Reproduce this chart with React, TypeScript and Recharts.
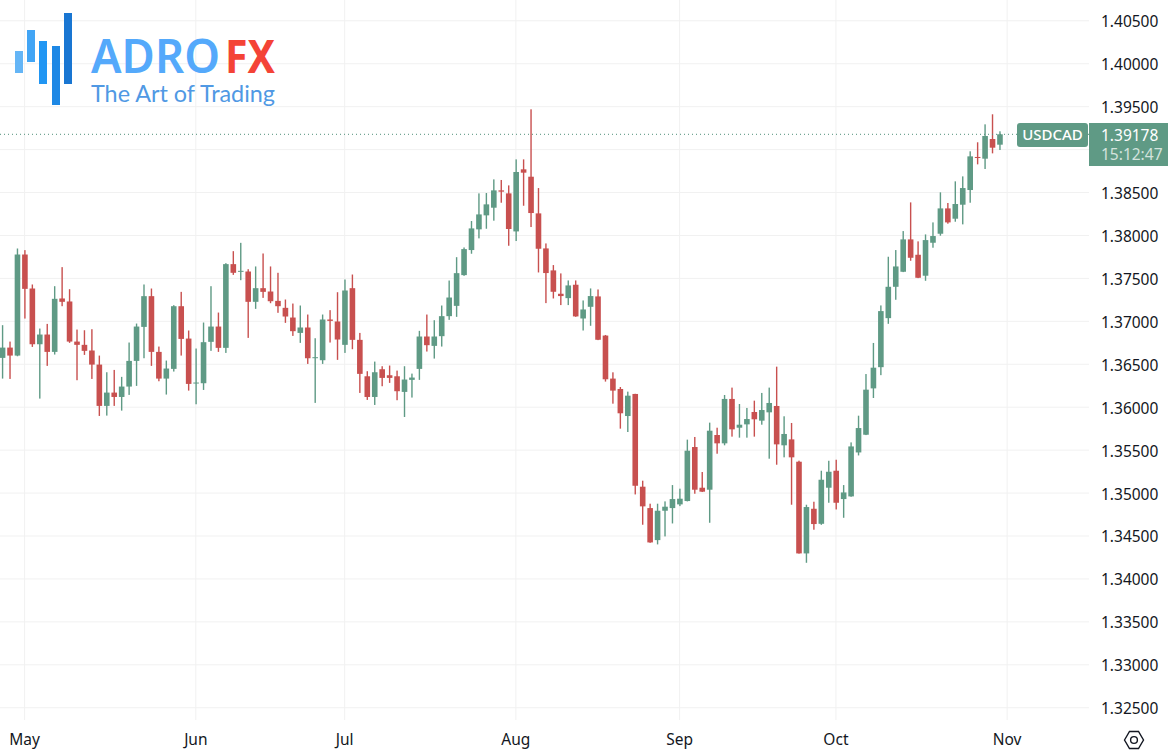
import React from "react";
import { ComposedChart, Bar, XAxis, YAxis, CartesianGrid, ReferenceLine } from "recharts";

const opens = [
1.36574,1.36694,1.36601,1.37778,1.37382,1.36733,1.36846,1.36644,1.37266,1.37231,
1.36764,1.36726,1.36660,1.36496,1.36015,1.36170,1.36119,1.36240,1.36539,1.36935,
1.37293,1.36644,1.36333,1.36446,1.37176,1.36799,1.36279,1.36279,1.36761,1.36939,
1.36691,1.37666,1.37580,1.37580,1.37227,1.37386,1.37347,1.37238,1.37157,1.37044,
1.36865,1.36928,1.36574,1.36547,1.37021,1.36998,1.36726,1.37386,1.36784,1.36360,
1.36119,1.36442,1.36372,1.36360,1.36178,1.36318,1.36446,1.36823,1.36714,1.36827,
1.37060,1.37180,1.37538,1.37830,1.38071,1.38234,1.38323,1.38525,1.38490,1.38047,
1.38770,1.38684,1.38257,1.37849,1.37593,1.37321,1.37270,1.37426,1.37033,1.37169,
1.37290,1.36834,1.36333,1.36212,1.35897,1.36154,1.35074,1.34825,1.34452,1.34794,
1.34825,1.34868,1.34907,1.35536,1.35062,1.35039,1.35676,1.35579,1.36096,1.35761,
1.35800,1.35944,1.35843,1.35940,1.36014,1.35556,1.35625,1.35365,1.34297,1.34817,
1.34642,1.35062,1.35260,1.34930,1.34961,1.35473,1.35679,1.36219,1.36466,1.37037,
1.37402,1.37577,1.37954,1.37775,1.37531,1.37915,1.38020,1.38315,1.38195,1.38358,
1.38529,1.38914,1.38894,1.39123,1.39057,
];
const highs = [
1.36955,1.36764,1.37848,1.37829,1.37429,1.36916,1.36970,1.37409,1.37631,1.37374,
1.36904,1.36896,1.36908,1.36601,1.36407,1.36434,1.36353,1.36753,1.36974,1.37429,
1.37382,1.36706,1.36543,1.37188,1.37343,1.36893,1.36683,1.36986,1.37409,1.37102,
1.37677,1.37817,1.37914,1.37607,1.37639,1.37790,1.37639,1.37565,1.37254,1.37207,
1.37184,1.37079,1.36803,1.37079,1.37130,1.37339,1.37487,1.37545,1.36865,1.36419,
1.36531,1.36477,1.36485,1.36426,1.36477,1.36391,1.36889,1.37079,1.37013,1.37184,
1.37475,1.37747,1.37860,1.38168,1.38490,1.38494,1.38653,1.38646,1.38583,1.38886,
1.38886,1.39469,1.38552,1.37907,1.37655,1.37558,1.37476,1.37476,1.37243,1.37383,
1.37371,1.36841,1.36406,1.36235,1.36181,1.36156,1.35144,1.34876,1.34876,1.34903,
1.35093,1.35051,1.35622,1.35653,1.35245,1.35820,1.35761,1.36142,1.36228,1.36037,
1.35991,1.36076,1.36166,1.36228,1.36472,1.35894,1.35816,1.35377,1.34864,1.34899,
1.35260,1.35376,1.35388,1.35093,1.35590,1.35901,1.36386,1.36748,1.37185,1.37752,
1.37830,1.38051,1.38385,1.37931,1.38012,1.38152,1.38502,1.38378,1.38630,1.38688,
1.38980,1.39085,1.39294,1.39411,1.39213,
];
const lows = [
1.36333,1.36329,1.36593,1.37032,1.36702,1.36100,1.36481,1.36613,1.37176,1.36749,
1.36314,1.36609,1.36329,1.35898,1.35902,1.36015,1.35960,1.36143,1.36248,1.36570,
1.36481,1.36302,1.36147,1.36415,1.36601,1.36193,1.36034,1.36201,1.36656,1.36644,
1.36632,1.37541,1.37479,1.36807,1.37145,1.37273,1.37211,1.37099,1.36982,1.36830,
1.36749,1.36504,1.36050,1.36504,1.36753,1.36551,1.36632,1.36675,1.36166,1.36085,
1.36026,1.36244,1.36283,1.36081,1.35886,1.36112,1.36318,1.36648,1.36566,1.36706,
1.37017,1.37052,1.37530,1.37787,1.37966,1.38078,1.38172,1.38381,1.37880,1.37935,
1.38346,1.38098,1.37569,1.37212,1.37266,1.37189,1.37189,1.37053,1.36893,1.36948,
1.36781,1.36298,1.36041,1.35750,1.35711,1.34984,1.34631,1.34421,1.34402,1.34495,
1.34646,1.34848,1.34903,1.34992,1.35012,1.34654,1.35458,1.35556,1.35657,1.35645,
1.35645,1.35657,1.35796,1.35400,1.35330,1.35416,1.34864,1.34295,1.34188,1.34573,
1.34630,1.34887,1.34809,1.34712,1.34957,1.35438,1.35675,1.36107,1.36373,1.36971,
1.37251,1.37573,1.37705,1.37503,1.37472,1.37857,1.37997,1.38137,1.38160,1.38129,
1.38381,1.38828,1.38774,1.38956,1.38995,
];
const closes = [
1.36694,1.36601,1.37778,1.37378,1.36733,1.36846,1.36644,1.37262,1.37227,1.36764,
1.36726,1.36656,1.36496,1.36015,1.36170,1.36119,1.36240,1.36539,1.36939,1.37293,
1.36644,1.36333,1.36450,1.37176,1.36795,1.36271,1.36287,1.36757,1.36939,1.36691,
1.37666,1.37565,1.37588,1.37227,1.37386,1.37343,1.37234,1.37176,1.37056,1.36885,
1.36928,1.36570,1.36582,1.37021,1.37005,1.36788,1.37359,1.36784,1.36388,1.36119,
1.36407,1.36341,1.36341,1.36186,1.36322,1.36345,1.36823,1.36722,1.36823,1.37060,
1.37277,1.37561,1.37841,1.38082,1.38245,1.38362,1.38525,1.38510,1.38075,1.38739,
1.38731,1.38261,1.37845,1.37562,1.37344,1.37294,1.37418,1.37057,1.37138,1.37294,
1.36785,1.36325,1.36193,1.35929,1.36134,1.35085,1.34845,1.34425,1.34794,1.34841,
1.34930,1.34934,1.35493,1.35039,1.35016,1.35726,1.35579,1.36096,1.35742,1.35796,
1.35862,1.35859,1.35967,1.36049,1.35567,1.35688,1.35416,1.34297,1.34837,1.34639,
1.35155,1.35248,1.34887,1.35007,1.35543,1.35757,1.36204,1.36460,1.37119,1.37402,
1.37639,1.37954,1.37740,1.37507,1.37946,1.37993,1.38315,1.38152,1.38366,1.38552,
1.38921,1.38902,1.39158,1.39022,1.39178,
];

const monthTicks = [3, 26, 46, 69, 91, 112, 135];
const monthLabels = ["May", "Jun", "Jul", "Aug", "Sep", "Oct", "Nov"];
const gridPrices = [1.325, 1.33, 1.335, 1.34, 1.345, 1.35, 1.355, 1.36, 1.365, 1.37, 1.375, 1.38, 1.385, 1.39, 1.395, 1.4, 1.405];
const labelledPrices = [1.325, 1.33, 1.335, 1.34, 1.345, 1.35, 1.355, 1.36, 1.365, 1.37, 1.375, 1.38, 1.385, 1.395, 1.4, 1.405];
const symbol = "USDCAD";
const lastPrice = 1.39178;
const countdown = "15:12:47";

const UP = "#5f9a85";
const DOWN = "#c8504f";
const FONT = "'Noto Sans', sans-serif";

const rows = opens.map((open, i) => ({
  idx: i,
  open,
  high: highs[i],
  low: lows[i],
  close: closes[i],
  range: [lows[i], highs[i]],
}));

function Candle(props: any) {
  const { x, y, width, height, payload } = props;
  const top = Math.min(y, y + height);
  const h = Math.abs(height);
  const { open, close, high, low } = payload;
  const k = h / (high - low || 1);
  const yOf = (v: number) => top + (high - v) * k;
  const color = close >= open ? UP : DOWN;
  const yTop = yOf(Math.max(open, close));
  const bodyH = Math.max(Math.abs(open - close) * k, 1);
  const cx = x + width / 2;
  return (
    <g>
      <rect x={cx - 0.7} y={top} width={1.4} height={h} fill={color} />
      <rect x={cx - 2.8} y={yTop} width={5.6} height={bodyH} fill={color} />
    </g>
  );
}

function Overlay() {
  return (
    <svg width={1168} height={756} style={{ position: "absolute", left: 0, top: 0, pointerEvents: "none" }}>
      <rect x={15} y={51} width={8} height={22} fill="#64b5f6" />
      <rect x={27} y={30} width={8} height={32} fill="#42a5f5" />
      <rect x={39} y={41} width={8} height={43} fill="#2196f3" />
      <rect x={52} y={46} width={8} height={59} fill="#1e88e5" />
      <rect x={64} y={13} width={8} height={71} fill="#1976d2" />
      <text x={91} y={73} fontFamily="'Noto Sans', sans-serif" fontWeight={600} fontSize={46} fill="#54a9fb" textLength={129} lengthAdjust="spacingAndGlyphs">ADRO</text>
      <text x={225} y={73} fontFamily="'Noto Sans', sans-serif" fontWeight={700} fontSize={46} fill="#f44336" textLength={50} lengthAdjust="spacingAndGlyphs">FX</text>
      <text x={91} y={102} fontFamily="Lato, sans-serif" fontWeight={400} fontSize={24} fill="#5099e4" textLength={184} lengthAdjust="spacingAndGlyphs">The Art of Trading</text>

      <rect x={1017} y={123} width={71} height={24} rx={3} fill={UP} />
      <text x={1052.5} y={140} textAnchor="middle" fontFamily={FONT} fontWeight={500} fontSize={15} fill="#fff">{symbol}</text>
      <rect x={1089} y={123} width={79} height={43} fill={UP} />
      <text x={1101} y={141} fontFamily={FONT} fontSize={15.5} fill="#fff">{lastPrice.toFixed(5)}</text>
      <text x={1101} y={160} fontFamily={FONT} fontSize={15.5} fill="#d3e3dd">{countdown}</text>

      <g fill="none" stroke="#131722" strokeWidth={1.4}>
        <polygon points="1124.5,740 1129.5,731.5 1138.5,731.5 1143.5,740 1138.5,748.5 1129.5,748.5" />
        <circle cx={1134} cy={740} r={3.4} />
      </g>
    </svg>
  );
}

export default function App() {
  return (
    <div style={{ position: "absolute", left: 0, top: 0, width: 1168, height: 756, background: "#fff" }}>
      <ComposedChart
        width={1168}
        height={756}
        data={rows}
        margin={{ top: 0, right: 0, bottom: 0, left: 0 }}
        barSize={6}
      >
        <CartesianGrid stroke="#f1f1f1" horizontalValues={gridPrices} verticalValues={monthTicks} />
        <XAxis
          dataKey="idx"
          type="number"
          domain={[-0.309, 146]}
          allowDataOverflow
          ticks={monthTicks}
          interval={0}
          height={36}
          axisLine={false}
          tickLine={false}
          tickSize={0}
          tickMargin={14}
          tick={{ fill: "#131722", fontSize: 15.5, fontFamily: FONT }}
          tickFormatter={(v: number) => monthLabels[monthTicks.indexOf(v)]}
        />
        <YAxis
          orientation="right"
          type="number"
          width={79}
          domain={[1.32357, 1.40742]}
          allowDataOverflow
          ticks={labelledPrices}
          interval={0}
          axisLine={false}
          tickLine={false}
          tickSize={0}
          tickMargin={12}
          tick={{ fill: "#131722", fontSize: 15.5, fontFamily: FONT, dy: 1 }}
          tickFormatter={(v: number) => v.toFixed(5)}
        />
        <ReferenceLine y={lastPrice} stroke="#4f8f7a" strokeDasharray="1 3" />
        <Bar dataKey="range" isAnimationActive={false} shape={Candle} />
      </ComposedChart>
      <Overlay />
    </div>
  );
}
